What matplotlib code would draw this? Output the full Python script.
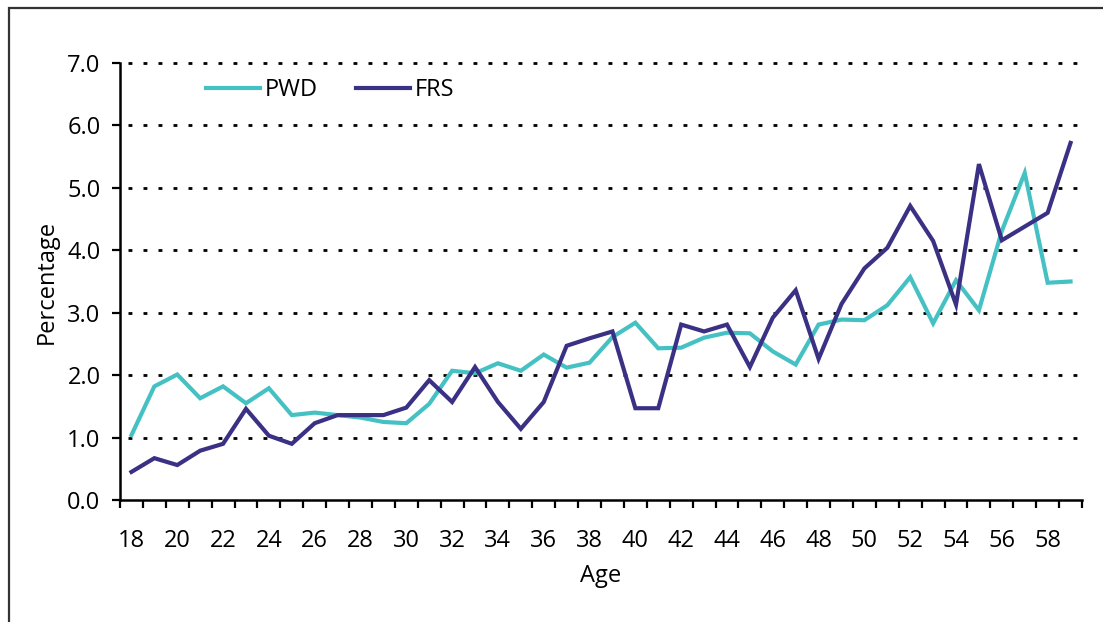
import matplotlib
matplotlib.use("Agg")
import matplotlib.pyplot as plt
from matplotlib.patches import Rectangle
import numpy as np

plt.rcParams['font.family'] = ['Open Sans', 'DejaVu Sans']

ages = list(range(18, 60))
pwd = [1.04, 1.82, 2.01, 1.63, 1.82, 1.55, 1.79, 1.36, 1.40, 1.36,
       1.32, 1.25, 1.23, 1.54, 2.07, 2.03, 2.19, 2.07, 2.33, 2.12,
       2.20, 2.61, 2.84, 2.43, 2.44, 2.60, 2.68, 2.67, 2.38, 2.17,
       2.81, 2.89, 2.88, 3.12, 3.57, 2.83, 3.52, 3.04, 4.31, 5.24,
       3.48, 3.50]
frs = [0.45, 0.67, 0.56, 0.79, 0.90, 1.46, 1.03, 0.90, 1.23, 1.36,
       1.36, 1.36, 1.48, 1.92, 1.57, 2.13, 1.57, 1.14, 1.57, 2.47,
       2.59, 2.70, 1.47, 1.47, 2.81, 2.70, 2.81, 2.13, 2.92, 3.36,
       2.26, 3.14, 3.71, 4.04, 4.71, 4.15, 3.13, 5.38, 4.16, 4.38,
       4.60, 5.72]
yticks = [0, 1, 2, 3, 4, 5, 6, 7]
series_names = ["PWD", "FRS"]

W, H = 1103, 622
FS = 17
fig = plt.figure(figsize=(W / 100, H / 100), dpi=100)
ax = fig.add_axes([120 / W, 1 - 500 / H, (1082 - 120) / W, (500 - 63) / H])

x = np.arange(len(ages))
teal = "#45C1C4"
navy = "#3A3185"
ax.plot(x, pwd, color=teal, lw=3.0, label=series_names[0], solid_joinstyle='miter', zorder=3)
ax.plot(x, frs, color=navy, lw=3.0, label=series_names[1], solid_joinstyle='miter', zorder=4)

ax.set_xlim(-0.5, len(ages) - 0.5)
ax.set_ylim(0, 7)

# grid lines
for yv in yticks[1:]:
    ax.plot([-0.15, len(ages) - 0.5], [yv, yv], color="black", lw=2.0,
            ls=(0, (1.4, 4.0)), zorder=1, clip_on=False)

ax.set_yticks(yticks)
ax.set_yticklabels([f"{v:.1f}" for v in yticks])
ax.set_xticks(x[::2])
ax.set_xticklabels([str(a) for a in ages[::2]])
ax.set_xticks(np.arange(-0.5, len(ages), 1.0), minor=True)
ax.tick_params(axis='x', which='major', length=0, pad=21, labelsize=FS)
ax.tick_params(axis='x', which='minor', length=6, width=1.6, direction='out')
ax.tick_params(axis='y', which='major', length=6, width=1.6, pad=8, labelsize=FS)

for s in ['top', 'right']:
    ax.spines[s].set_visible(False)
for s in ['left', 'bottom']:
    ax.spines[s].set_linewidth(1.8)
    ax.spines[s].set_color("black")

ax.set_ylabel("Percentage", fontsize=FS, labelpad=6)
ax.set_xlabel("Age", fontsize=FS, labelpad=8)

leg = fig.legend(loc='center left', bbox_to_anchor=(206 / W, 1 - 90 / H),
                 ncol=2, frameon=False, fontsize=FS, handlelength=2.3,
                 handletextpad=0.2, columnspacing=1.6, borderpad=0,
                 borderaxespad=0)

fig.patches.append(Rectangle((9 / W, -0.1), 1.2, 1.1 - 8 / H, transform=fig.transFigure,
                             fill=False, edgecolor="#333333", lw=1.6))

fig.savefig("out.png", dpi=100)
